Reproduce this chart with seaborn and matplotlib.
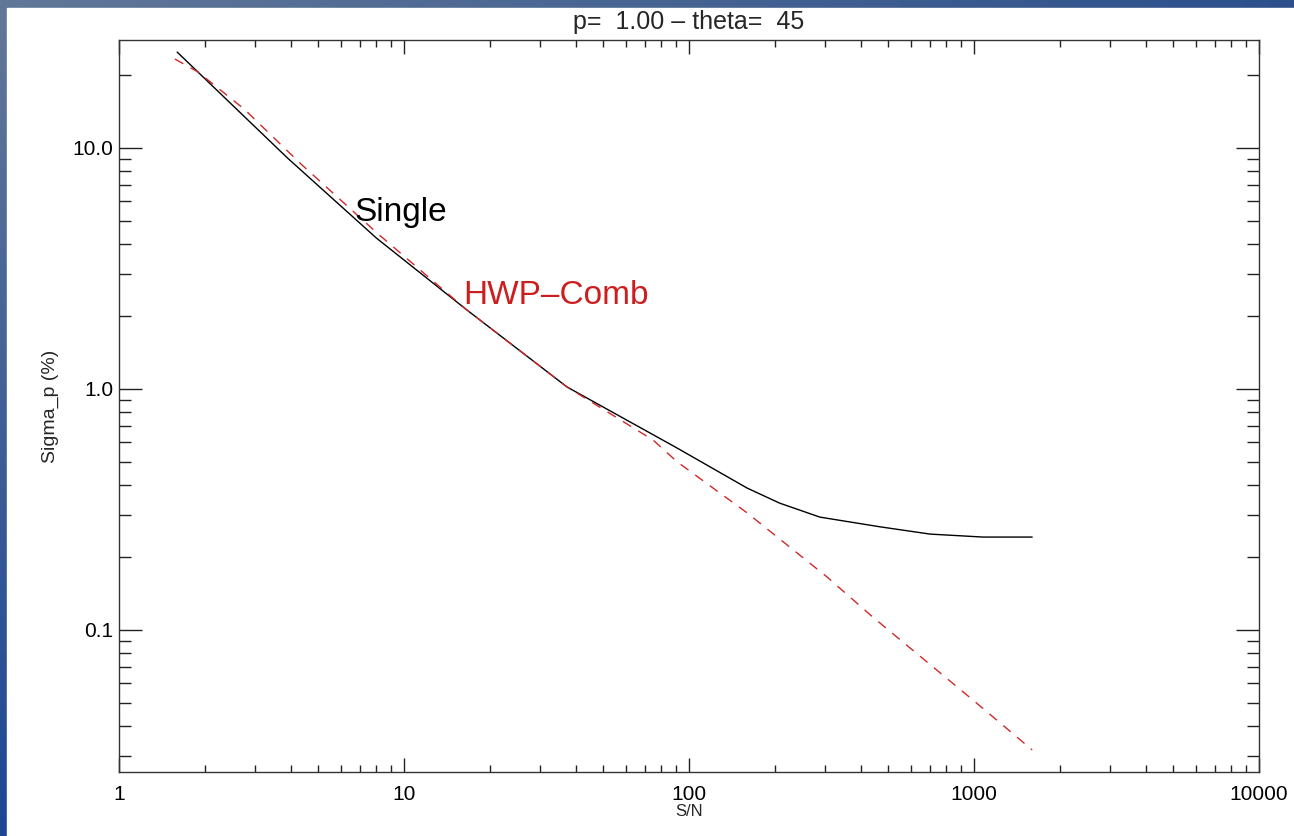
import numpy as np
import matplotlib
matplotlib.use("Agg")
import matplotlib.pyplot as plt
import matplotlib.ticker as mticker
import seaborn as sns

# values
sn_single = [1.6, 3.9, 8.0, 16.6, 37.3, 90.8, 160, 208, 288, 468, 701, 1076, 1600]
sig_single = [25.0, 9.09, 4.23, 2.13, 1.02, 0.569, 0.388, 0.336, 0.294, 0.268, 0.250, 0.243, 0.243]

sn_comb = [1.57, 1.89, 2.75, 4.35, 8.04, 16.6, 37.3, 74.8, 91.0, 160, 305, 442, 992, 1600]
sig_comb = [23.4, 20.7, 14.5, 8.58, 4.44, 2.13, 1.02, 0.614, 0.498, 0.306, 0.166, 0.113, 0.0512, 0.0318]

x_ticks = [1, 10, 100, 1000, 10000]
x_labels = ['1', '10', '100', '1000', '10000']
y_ticks = [0.1, 1.0, 10.0]
y_labels = ['0.1', '1.0', '10.0']

sns.set_style("ticks")
plt.rcParams['font.family'] = ['Liberation Sans', 'DejaVu Sans']

fig = plt.figure(figsize=(12.94, 8.36), dpi=100)

# blue frame behind the white page
bg = fig.add_axes([0, 0, 1, 1], zorder=-2)
h, w = 836, 1294
tl = np.array([98, 120, 152]) / 255
tr = np.array([45, 80, 140]) / 255
bl = np.array([30, 70, 148]) / 255
br = np.array([30, 60, 140]) / 255
u = np.linspace(0, 1, w)[None, :, None]
v = np.linspace(0, 1, h)[:, None, None]
grad = (1 - v) * ((1 - u) * tl + u * tr) + v * ((1 - u) * bl + u * br)
bg.imshow(grad, aspect='auto', extent=[0, 1, 0, 1])
bg.add_patch(plt.Rectangle((7 / w, 0), 1, (h - 8) / h, color='white', transform=bg.transAxes))
bg.set_axis_off()

ax = fig.add_axes([119 / 1294, 64 / 836, 1140 / 1294, 732 / 836])
ax.set_facecolor('white')
ax.set_xscale('log')
ax.set_yscale('log')

sns.lineplot(x=sn_single, y=sig_single, ax=ax, color='black', linewidth=1.0, sort=False)
sns.lineplot(x=sn_comb, y=sig_comb, ax=ax, color='#d02828', linewidth=1.0, sort=False)
ax.lines[-1].set_dashes((7, 6))

ax.set_xlim(1, 10000)
ax.set_ylim(0.02575, 28.06)

ax.text(6.7, 5.0, 'Single', fontsize=24, color='black')
ax.text(16.1, 2.25, 'HWP–Comb', fontsize=24, color='#cc1e1e')

ax.set_title('p=  1.00 – theta=  45', fontsize=18, pad=8)
ax.set_xlabel('S/N', fontsize=12, labelpad=0)
ax.set_ylabel('Sigma_p (%)', fontsize=14, labelpad=10)

ax.xaxis.set_major_locator(mticker.FixedLocator(x_ticks))
ax.xaxis.set_major_formatter(mticker.FixedFormatter(x_labels))
ax.yaxis.set_major_locator(mticker.FixedLocator(y_ticks))
ax.yaxis.set_major_formatter(mticker.FixedFormatter(y_labels))
ax.xaxis.set_minor_locator(mticker.LogLocator(base=10, subs=np.arange(2, 10), numticks=20))
ax.yaxis.set_minor_locator(mticker.LogLocator(base=10, subs=np.arange(2, 10), numticks=20))
ax.xaxis.set_minor_formatter(mticker.NullFormatter())
ax.yaxis.set_minor_formatter(mticker.NullFormatter())

ax.tick_params(which='both', direction='in', top=True, right=True, colors='#222222', labelcolor='black')
ax.tick_params(axis='x', which='major', length=10, width=1.0, labelsize=15, pad=9)
ax.tick_params(axis='x', which='minor', length=5, width=1.0)
ax.tick_params(axis='y', which='major', length=16.5, width=1.0, labelsize=15, pad=4)
ax.tick_params(axis='y', which='minor', length=8.5, width=1.0)

for s in ax.spines.values():
    s.set_color('#333333')
    s.set_linewidth(1.0)

plt.savefig('out.png', dpi=100)
